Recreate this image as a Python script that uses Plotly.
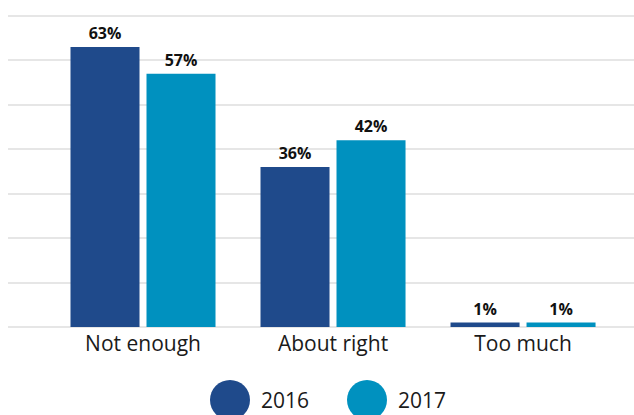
import plotly.graph_objects as go

# Survey responses by year
categories = ["Not enough", "About right", "Too much"]
years = ["2016", "2017"]
values_2016 = [63, 36, 1]
values_2017 = [57, 42, 1]
colors = ["#1f4a8b", "#0091bf"]

W, H = 634, 415
M_L, M_R, M_T, M_B = 8, 0, 14, 88

fig = go.Figure()
for name, vals, col in zip(years, [values_2016, values_2017], colors):
    fig.add_trace(go.Bar(
        x=categories, y=vals, name=name,
        marker=dict(color=col, line=dict(width=0)),
        text=[f"{v}%" for v in vals],
        textposition="outside",
        textfont=dict(family="Open Sans", size=16, color="#111111", weight="bold"),
        cliponaxis=False,
        showlegend=False,
    ))

fig.update_layout(
    width=W, height=H,
    margin=dict(l=M_L, r=M_R, t=M_T, b=M_B, pad=0),
    paper_bgcolor="white", plot_bgcolor="white",
    barmode="group", bargap=0.2, bargroupgap=0.092,
    font=dict(family="Open Sans", color="#1a1a1a"),
    xaxis=dict(
        range=[-0.7105, 2.584], showgrid=False, zeroline=False,
        showline=False, ticks="", tickfont=dict(size=21, color="#1a1a1a"),
        ticklabelstandoff=2, fixedrange=True,
    ),
    yaxis=dict(
        range=[0, 70.43], tick0=0, dtick=10, showticklabels=False,
        showgrid=True, gridcolor="#e6e6e6", gridwidth=2,
        zeroline=True, zerolinecolor="#e6e6e6", zerolinewidth=2,
        fixedrange=True,
    ),
)

# Legend drawn as large circular swatches with year labels
plot_w = W - M_L - M_R
plot_h = H - M_T - M_B
legend_y = (H - M_B - 400) / plot_h
swatch_centers = [230, 367]
for name, col, cx in zip(years, colors, swatch_centers):
    px = (cx - M_L) / plot_w
    fig.add_shape(
        type="circle", xref="paper", yref="paper",
        xsizemode="pixel", ysizemode="pixel",
        xanchor=px, yanchor=legend_y,
        x0=-20, x1=20, y0=-20, y1=20,
        fillcolor=col, line=dict(width=0),
    )
    fig.add_annotation(
        xref="paper", yref="paper", x=(cx + 29 - M_L) / plot_w, y=legend_y,
        text=name, showarrow=False, xanchor="left", yanchor="middle",
        font=dict(size=21, color="#1a1a1a"),
    )

fig.write_html("out.html")
